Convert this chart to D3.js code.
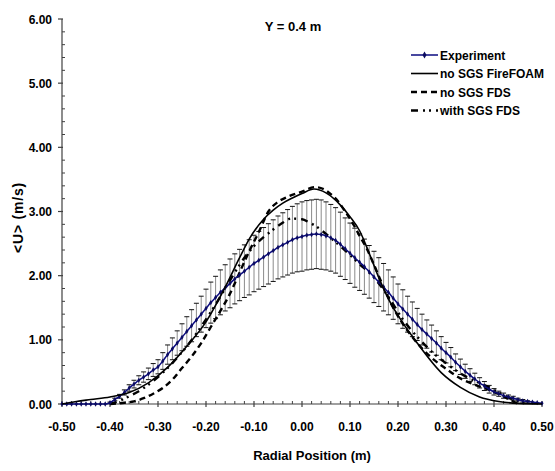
<!DOCTYPE html>
<html>
<head>
<meta charset="utf-8">
<script src="https://cdn.jsdelivr.net/npm/d3@7"></script>
<style>
  html, body { margin: 0; padding: 0; background: #fff; }
  svg { display: block; }
  text { font-family: "Liberation Sans", Arial, sans-serif; font-weight: bold; fill: #000; }
</style>
</head>
<body>
<svg id="chart" width="555" height="471"></svg>
<script>
// ---------- data ----------
const title = "Y = 0.4 m";
const xLabel = "Radial Position (m)";
const yLabel = "<U> (m/s)";
const xTicks = [-0.5, -0.4, -0.3, -0.2, -0.1, 0.0, 0.1, 0.2, 0.3, 0.4, 0.5];
const yTicks = [0, 1, 2, 3, 4, 5, 6];
const seriesNames = ["Experiment", "no SGS FireFOAM", "no SGS FDS", "with SGS FDS"];

// Experiment (mean and error half-width)
const expX = [-0.50,-0.49,-0.48,-0.47,-0.46,-0.45,-0.44,-0.43,-0.42,-0.41,
  -0.40,-0.39,-0.38,-0.37,-0.36,-0.35,-0.34,-0.33,-0.32,-0.31,
  -0.30,-0.29,-0.28,-0.27,-0.26,-0.25,-0.24,-0.23,-0.22,-0.21,
  -0.20,-0.19,-0.18,-0.17,-0.16,-0.15,-0.14,-0.13,-0.12,-0.11,
  -0.10,-0.09,-0.08,-0.07,-0.06,-0.05,-0.04,-0.03,-0.02,-0.01,
  0.00,0.01,0.02,0.03,0.04,0.05,0.06,0.07,0.08,0.09,
  0.10,0.11,0.12,0.13,0.14,0.15,0.16,0.17,0.18,0.19,
  0.20,0.21,0.22,0.23,0.24,0.25,0.26,0.27,0.28,0.29,
  0.30,0.31,0.32,0.33,0.34,0.35,0.36,0.37,0.38,0.39,
  0.40,0.41,0.42,0.43,0.44,0.45,0.46,0.47,0.48,0.49,0.50];
const expU = [0,0,0,0,0,0,0,0,0,0,
  0.02,0.07,0.12,0.18,0.25,0.31,0.37,0.42,0.47,0.53,
  0.58,0.67,0.77,0.86,0.95,1.04,1.13,1.22,1.31,1.40,
  1.49,1.58,1.66,1.74,1.81,1.88,1.95,2.01,2.07,2.13,
  2.19,2.24,2.29,2.34,2.39,2.44,2.48,2.52,2.56,2.59,
  2.61,2.63,2.64,2.65,2.64,2.62,2.59,2.55,2.49,2.42,
  2.35,2.28,2.21,2.14,2.06,1.98,1.90,1.82,1.74,1.65,
  1.56,1.48,1.40,1.32,1.24,1.16,1.09,1.02,0.95,0.87,
  0.80,0.73,0.65,0.58,0.51,0.45,0.39,0.33,0.28,0.23,
  0.19,0.16,0.13,0.11,0.09,0.07,0.05,0.04,0.03,0.02,0.01];
const expErr = [0,0,0,0,0,0,0,0,0,0,
  0.01,0.02,0.03,0.04,0.05,0.06,0.07,0.08,0.09,0.10,
  0.11,0.13,0.15,0.17,0.19,0.21,0.23,0.25,0.26,0.28,
  0.30,0.32,0.33,0.35,0.36,0.38,0.39,0.40,0.41,0.43,
  0.44,0.45,0.46,0.47,0.48,0.49,0.50,0.51,0.52,0.53,
  0.54,0.54,0.54,0.54,0.54,0.53,0.52,0.51,0.50,0.48,
  0.47,0.46,0.44,0.43,0.41,0.40,0.38,0.37,0.35,0.33,
  0.31,0.30,0.28,0.27,0.25,0.24,0.22,0.21,0.19,0.18,
  0.16,0.15,0.13,0.12,0.11,0.10,0.09,0.08,0.07,0.06,
  0.05,0.04,0.04,0.03,0.03,0.02,0.02,0.01,0,0,0];

// no SGS FireFOAM (solid)
const ffX = [-0.50,-0.47,-0.44,-0.40,-0.36,-0.32,-0.28,-0.24,-0.20,-0.16,-0.13,-0.11,-0.08,-0.06,-0.04,-0.02,0.00,0.025,0.05,0.08,0.10,0.12,0.14,0.16,0.18,0.20,0.24,0.29,0.33,0.37,0.41,0.45,0.50];
const ffU = [0.00,0.04,0.07,0.11,0.18,0.33,0.57,0.90,1.28,1.82,2.28,2.57,2.88,3.02,3.13,3.21,3.28,3.35,3.29,3.10,2.92,2.70,2.35,1.97,1.64,1.38,0.95,0.49,0.26,0.11,0.04,0.01,0.00];

// no SGS FDS (dashed)
const fdsX = [-0.40,-0.37,-0.35,-0.33,-0.31,-0.29,-0.27,-0.25,-0.23,-0.21,-0.19,-0.17,-0.15,-0.13,-0.11,-0.09,-0.07,-0.05,-0.03,0.00,0.027,0.045,0.06,0.075,0.09,0.107,0.12,0.135,0.15,0.17,0.19,0.21,0.24,0.27,0.30,0.33,0.36,0.39,0.42,0.45];
const fdsU = [0.00,0.02,0.04,0.09,0.16,0.25,0.38,0.56,0.74,0.95,1.20,1.45,1.72,2.05,2.38,2.68,3.00,3.15,3.23,3.31,3.38,3.35,3.27,3.16,3.00,2.80,2.62,2.42,2.17,1.82,1.50,1.25,0.95,0.72,0.55,0.40,0.30,0.22,0.12,0.00];

// with SGS FDS (dash-dot-dot)
const sgsX = [-0.40,-0.38,-0.36,-0.34,-0.32,-0.30,-0.28,-0.26,-0.24,-0.22,-0.20,-0.18,-0.16,-0.14,-0.12,-0.10,-0.08,-0.065,-0.045,-0.022,0.00,0.015,0.031,0.05,0.069,0.093,0.12,0.149,0.18,0.211,0.246,0.274,0.301,0.329,0.36,0.39,0.42,0.45,0.47];
const sgsU = [0.00,0.05,0.12,0.20,0.30,0.42,0.56,0.72,0.90,1.10,1.32,1.55,1.80,2.05,2.28,2.46,2.60,2.69,2.80,2.89,2.88,2.83,2.76,2.65,2.53,2.37,2.18,1.98,1.67,1.31,1.00,0.79,0.63,0.48,0.36,0.26,0.14,0.04,0.00];

// ---------- chart ----------
const svg = d3.select("#chart");
const x = d3.scaleLinear().domain([-0.5, 0.5]).range([62, 542]);
const y = d3.scaleLinear().domain([0, 6]).range([404, 19]);
const axisColor = "#404040";

// Y axis
const yAxis = svg.append("g");
yAxis.append("line").attr("x1", x(-0.5)).attr("x2", x(-0.5)).attr("y1", y(0)).attr("y2", y(6))
  .attr("stroke", axisColor).attr("stroke-width", 1.2);
const yMinor = d3.range(0, 30).map(i => i * 0.2).filter(v => Math.abs(v - Math.round(v)) > 1e-6);
yAxis.selectAll(".ymin").data(yMinor).join("line")
  .attr("x1", x(-0.5)).attr("x2", x(-0.5) + 3)
  .attr("y1", d => y(d)).attr("y2", d => y(d))
  .attr("stroke", axisColor).attr("stroke-width", 1);
yAxis.selectAll(".ymaj").data(yTicks).join("line")
  .attr("x1", x(-0.5) - 4).attr("x2", x(-0.5) + 1)
  .attr("y1", d => y(d)).attr("y2", d => y(d))
  .attr("stroke", axisColor).attr("stroke-width", 1.2);
yAxis.selectAll(".ylab").data(yTicks).join("text")
  .attr("x", 52).attr("y", d => y(d) + 4.5)
  .attr("text-anchor", "end").attr("font-size", 12)
  .text(d => d.toFixed(2));

// X axis
const xAxis = svg.append("g");
xAxis.append("line").attr("x1", x(-0.5)).attr("x2", x(0.5)).attr("y1", y(0)).attr("y2", y(0))
  .attr("stroke", axisColor).attr("stroke-width", 1.2);
const xMinor = d3.range(0, 51).map(i => -0.5 + i * 0.02).filter(v => Math.abs(v * 10 - Math.round(v * 10)) > 1e-6);
xAxis.selectAll(".xmin").data(xMinor).join("line")
  .attr("x1", d => x(d)).attr("x2", d => x(d))
  .attr("y1", y(0)).attr("y2", y(0) - 3)
  .attr("stroke", axisColor).attr("stroke-width", 1);
xAxis.selectAll(".xmaj").data(xTicks).join("line")
  .attr("x1", d => x(d)).attr("x2", d => x(d))
  .attr("y1", y(0) - 3).attr("y2", y(0) + 3)
  .attr("stroke", axisColor).attr("stroke-width", 1.2);
xAxis.selectAll(".xlab").data(xTicks).join("text")
  .attr("x", d => x(d)).attr("y", 431)
  .attr("text-anchor", "middle").attr("font-size", 12)
  .text(d => d.toFixed(2));

// Axis titles
svg.append("text").attr("x", 312).attr("y", 460).attr("text-anchor", "middle")
  .attr("font-size", 13).text(xLabel);
svg.append("text").attr("transform", "translate(23,217.5) rotate(-90)")
  .attr("text-anchor", "middle").attr("font-size", 14)
  .attr("letter-spacing", 0.8).text(yLabel);

// Title
svg.append("text").attr("x", 293).attr("y", 31).attr("text-anchor", "middle")
  .attr("font-size", 13).text(title);

// Error bars
const expData = expX.map((d, i) => ({ x: d, u: expU[i], e: expErr[i] }));
const eb = svg.append("g");
const ebData = expData.filter(d => d.e > 0);
eb.selectAll(".ebv").data(ebData).join("line")
  .attr("x1", d => x(d.x)).attr("x2", d => x(d.x))
  .attr("y1", d => y(d.u - d.e)).attr("y2", d => y(d.u + d.e))
  .attr("stroke", "#8a8a8a").attr("stroke-width", 1);
eb.selectAll(".ebt").data(ebData).join("line")
  .attr("x1", d => x(d.x) - 2.5).attr("x2", d => x(d.x) + 2.5)
  .attr("y1", d => y(d.u + d.e)).attr("y2", d => y(d.u + d.e))
  .attr("stroke", "#111").attr("stroke-width", 1);
eb.selectAll(".ebb").data(ebData).join("line")
  .attr("x1", d => x(d.x) - 2.5).attr("x2", d => x(d.x) + 2.5)
  .attr("y1", d => y(d.u - d.e)).attr("y2", d => y(d.u - d.e))
  .attr("stroke", "#111").attr("stroke-width", 1);

// Lines
const line = d3.line().x(d => x(d[0])).y(d => y(d[1])).curve(d3.curveMonotoneX);
const styles = {
  "no SGS FireFOAM": { color: "#000", width: 1.6, dash: null },
  "no SGS FDS": { color: "#000", width: 2.4, dash: "6,4" },
  "with SGS FDS": { color: "#000", width: 2.4, dash: "7,5,2,4,2,5" },
  "Experiment": { color: "#0b0b80", width: 1.5, dash: null }
};
function drawSeries(name, xs, us) {
  const st = styles[name];
  svg.append("path").datum(xs.map((d, i) => [d, us[i]]))
    .attr("d", line).attr("fill", "none")
    .attr("stroke", st.color).attr("stroke-width", st.width)
    .attr("stroke-dasharray", st.dash);
}
drawSeries("with SGS FDS", sgsX, sgsU);
drawSeries("no SGS FDS", fdsX, fdsU);
drawSeries("Experiment", expX, expU);
svg.append("g").selectAll("path").data(expData).join("path")
  .attr("d", d3.symbol().type(d3.symbolDiamond).size(8))
  .attr("transform", d => `translate(${x(d.x)},${y(d.u)})`)
  .attr("fill", "#0b0b60");
drawSeries("no SGS FireFOAM", ffX, ffU);

// Legend
const leg = svg.append("g");
const legY = [55, 73.5, 92, 110.5];
seriesNames.forEach((name, i) => {
  const st = styles[name];
  leg.append("line").attr("x1", 411).attr("x2", 438).attr("y1", legY[i]).attr("y2", legY[i])
    .attr("stroke", st.color).attr("stroke-width", st.width)
    .attr("stroke-dasharray", st.dash);
  if (name === "Experiment") {
    leg.append("path").attr("d", d3.symbol().type(d3.symbolDiamond).size(14))
      .attr("transform", `translate(424.5,${legY[i]})`).attr("fill", "#0b0b60");
  }
  leg.append("text").attr("x", 440).attr("y", legY[i] + 4.5).attr("font-size", 12).text(name);
});
</script>
</body>
</html>
